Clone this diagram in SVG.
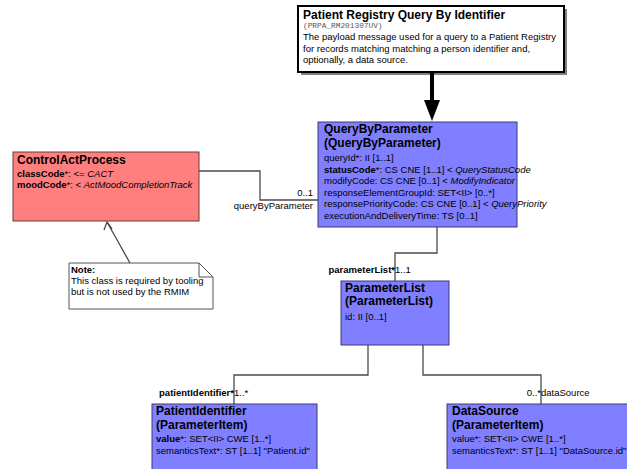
<svg xmlns="http://www.w3.org/2000/svg" width="627" height="469" viewBox="0 0 627 469">
  <style>
    text { font-family: "Liberation Sans", Arial, sans-serif; fill: #000; }
    .title { font-size: 12px; font-weight: bold; }
    .attr { font-size: 9.5px; }
    .b { font-weight: bold; }
    .i { font-style: italic; }
    .mono { font-family: "Liberation Mono", "Courier New", monospace; font-size: 7.8px; fill: #555; }
    .cls { fill: #7f7fff; stroke: #3a3a78; stroke-width: 1; }
    .act { fill: #ff7f7f; stroke: #6a3a3a; stroke-width: 1; }
    .conn { fill: none; stroke: #4a4a4a; stroke-width: 1.3; }
    .lbl { font-size: 9.5px; }
  </style>

  <rect width="627" height="469" fill="#fff"/>

  <!-- header: interaction description -->
  <g id="header">
    <rect x="301" y="9" width="266" height="66" fill="#808080"/>
    <rect x="298" y="6" width="266" height="66" fill="#fff" stroke="#000" stroke-width="2"/>
    <text class="title" x="303" y="19">Patient Registry Query By Identifier</text>
    <text class="mono" x="303" y="28">(PRPA_RM201307UV)</text>
    <text class="attr" x="303" y="40">The payload message used for a query to a Patient Registry</text>
    <text class="attr" x="303" y="51.5">for records matching matching a person identifier and,</text>
    <text class="attr" x="303" y="63">optionally, a data source.</text>
  </g>

  <!-- entry point arrow -->
  <g id="entry">
    <line x1="432" y1="73" x2="432" y2="101" stroke="#000" stroke-width="4"/>
    <polygon points="424,100 440,100 432,121" fill="#000"/>
  </g>

  <!-- connectors -->
  <g id="connectors">
    <path class="conn" d="M199,171 H260 V200 H318"/>
    <path class="conn" d="M437,227 V253 H395 V281"/>
    <path class="conn" d="M368,345 V375 H234 V404"/>
    <path class="conn" d="M423,345 V375 H541 V404"/>
    <!-- note link -->
    <path class="conn" d="M130,263 L107,222" stroke-width="1"/>
    <path class="conn" d="M104,230 L107,222 L112,229" stroke-width="1"/>

    <text class="lbl" x="313" y="196" text-anchor="end">0..1</text>
    <text class="lbl" x="313" y="209" text-anchor="end">queryByParameter</text>
    <text class="lbl b" x="395" y="273" text-anchor="end">parameterList*</text>
    <text class="lbl" x="395" y="273">1..1</text>
    <text class="lbl b" x="234" y="396" text-anchor="end">patientIdentifier*</text>
    <text class="lbl" x="234" y="396">1..*</text>
    <text class="lbl" x="541" y="396" text-anchor="end">0..*</text>
    <text class="lbl" x="541" y="396">dataSource</text>
  </g>

  <!-- ControlActProcess -->
  <g id="ControlActProcess">
    <rect class="act" x="13" y="152" width="186" height="69"/>
    <text class="title" x="17" y="164">ControlActProcess</text>
    <text class="attr" x="17" y="177"><tspan class="b">classCode</tspan>*: &lt;= <tspan class="i">CACT</tspan></text>
    <text class="attr" x="17" y="188"><tspan class="b">moodCode</tspan>*: &lt; <tspan class="i">ActMoodCompletionTrack</tspan></text>
  </g>

  <!-- note -->
  <g id="note">
    <path d="M69,263 H199 L213,277 V309 H69 Z" fill="#fff" stroke="#555" stroke-width="1"/>
    <path d="M199,263 V277 H213" fill="none" stroke="#555" stroke-width="1"/>
    <text class="attr b" x="71" y="273">Note:</text>
    <text class="attr" x="71" y="284">This class is required by tooling</text>
    <text class="attr" x="71" y="295">but is not used by the RMIM</text>
  </g>

  <!-- QueryByParameter -->
  <g id="QueryByParameter">
    <rect class="cls" x="318" y="122" width="199" height="105"/>
    <text class="title" x="324" y="133">QueryByParameter</text>
    <text class="title" x="324" y="146.5">(QueryByParameter)</text>
    <text class="attr" x="324" y="161">queryId*: II [1..1]</text>
    <text class="attr" x="324" y="172.5"><tspan class="b">statusCode</tspan>*: CS CNE [1..1] &lt; <tspan class="i">QueryStatusCode</tspan></text>
    <text class="attr" x="324" y="184">modifyCode: CS CNE [0..1] &lt; <tspan class="i">ModifyIndicator</tspan></text>
    <text class="attr" x="324" y="195.5">responseElementGroupId: SET&lt;II&gt; [0..*]</text>
    <text class="attr" x="324" y="207">responsePriorityCode: CS CNE [0..1] &lt; <tspan class="i">QueryPriority</tspan></text>
    <text class="attr" x="324" y="218.5">executionAndDeliveryTime: TS [0..1]</text>
  </g>

  <!-- ParameterList -->
  <g id="ParameterList">
    <rect class="cls" x="341" y="281" width="108" height="64"/>
    <text class="title" x="345" y="292">ParameterList</text>
    <text class="title" x="345" y="305">(ParameterList)</text>
    <text class="attr" x="345" y="320">id: II [0..1]</text>
  </g>

  <!-- PatientIdentifier -->
  <g id="PatientIdentifier">
    <rect class="cls" x="152" y="404" width="165" height="72"/>
    <text class="title" x="156" y="415">PatientIdentifier</text>
    <text class="title" x="156" y="428.5">(ParameterItem)</text>
    <text class="attr" x="156" y="442"><tspan class="b">value</tspan>*: SET&lt;II&gt; CWE [1..*]</text>
    <text class="attr" x="156" y="454">semanticsText*: ST [1..1] "Patient.id"</text>
  </g>

  <!-- DataSource -->
  <g id="DataSource">
    <rect class="cls" x="447" y="404" width="190" height="72"/>
    <text class="title" x="452" y="415">DataSource</text>
    <text class="title" x="452" y="428.5">(ParameterItem)</text>
    <text class="attr" x="452" y="442">value*: SET&lt;II&gt; CWE [1..*]</text>
    <text class="attr" x="452" y="454">semanticsText*: ST [1..1] "DataSource.id"</text>
  </g>
</svg>
